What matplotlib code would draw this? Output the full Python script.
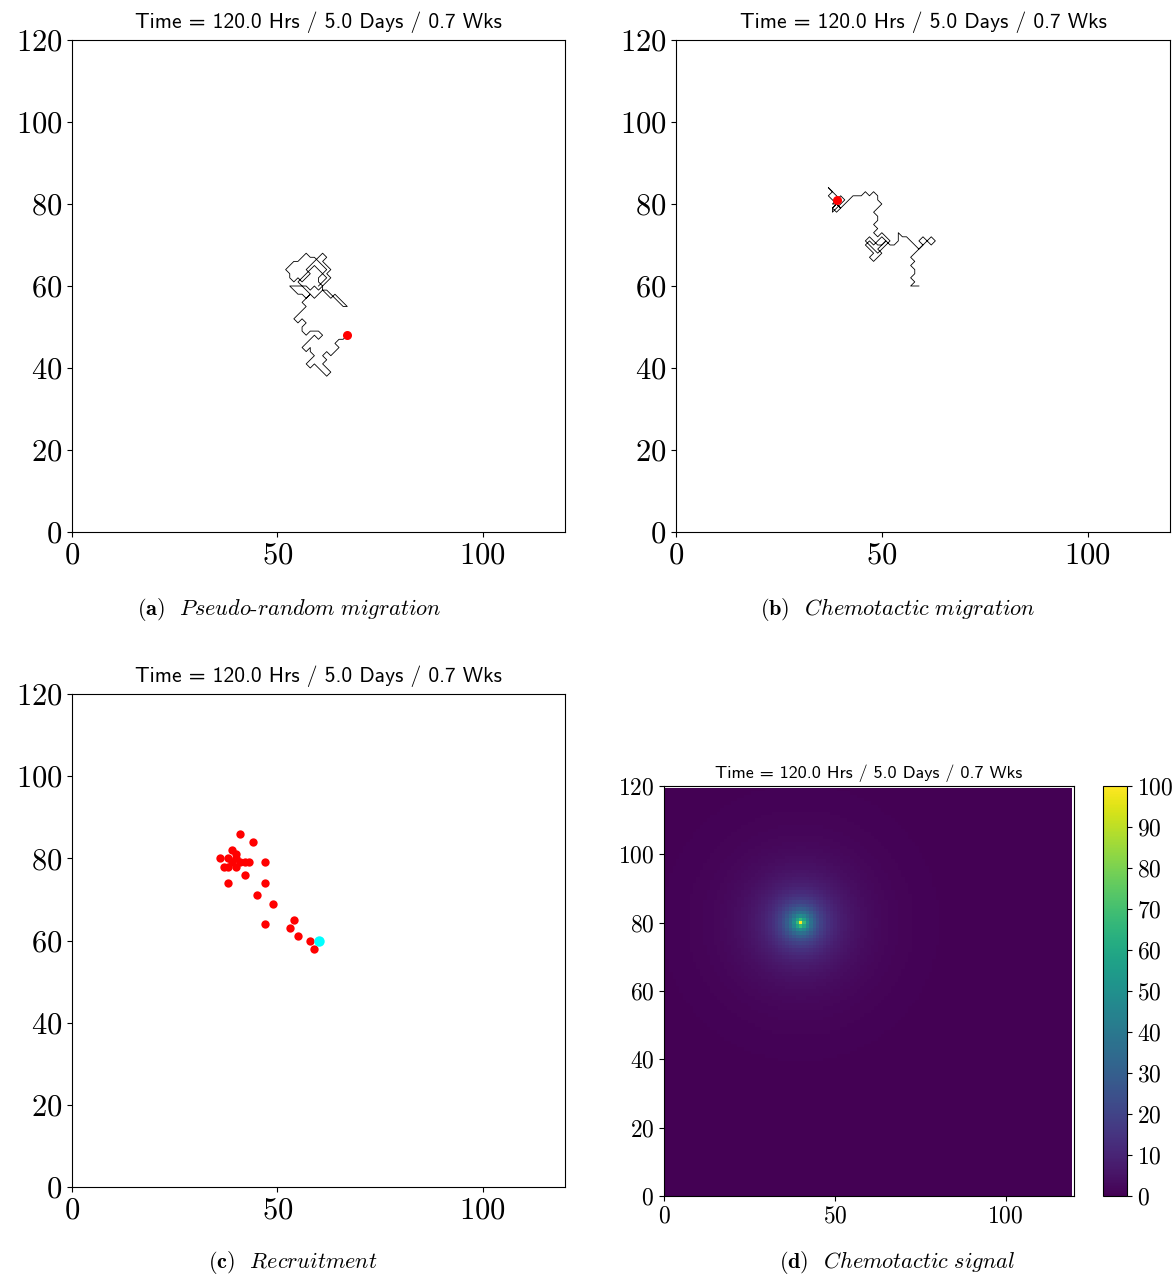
import numpy as np
import matplotlib
matplotlib.use("Agg")
import matplotlib.pyplot as plt

plt.rcParams['font.family'] = ['cmr10', 'DejaVu Serif']
plt.rcParams['mathtext.fontset'] = 'cm'
plt.rcParams['axes.formatter.use_mathtext'] = True

TITLE = "Time = 120.0 Hrs / 5.0 Days / 0.7 Wks"

# pseudo-random walk of one cell on the lattice (start -> current position)
rand_path = [
    (60, 60), (61, 61), (62, 62), (61, 63), (62, 64), (61, 65), (60, 66), (59, 67), (58, 67), (57, 68),
    (56, 67), (55, 66), (54, 66), (53, 65), (52, 64), (53, 63), (53, 62), (54, 61), (55, 62), (56, 61),
    (57, 62), (58, 63), (57, 64), (58, 65), (59, 66), (60, 67), (61, 68), (62, 67), (61, 66), (62, 65),
    (63, 64), (62, 63), (63, 62), (62, 61), (61, 60), (60, 59), (59, 60), (58, 59), (57, 60), (56, 60),
    (55, 60), (54, 60), (53, 60), (54, 59), (55, 58), (56, 58), (57, 57), (58, 58), (59, 57), (60, 58),
    (61, 59), (62, 58), (63, 57), (64, 58), (65, 57), (66, 56), (67, 55), (66, 55), (65, 56), (64, 57),
    (63, 58), (62, 59), (61, 59), (61, 60), (60, 61), (60, 62), (61, 63), (60, 64), (59, 65), (58, 64),
    (57, 63), (56, 62), (55, 61), (56, 60), (57, 59), (58, 58), (57, 57), (56, 56), (57, 55), (56, 54),
    (55, 53), (54, 52), (55, 51), (56, 52), (57, 51), (56, 50), (56, 49), (57, 48), (58, 49), (59, 49),
    (60, 49), (61, 48), (60, 47), (59, 48), (58, 47), (57, 46), (56, 45), (57, 44), (58, 45), (58, 44),
    (59, 43), (58, 42), (57, 41), (58, 40), (59, 41), (60, 40), (61, 39), (62, 38), (63, 39), (62, 40),
    (61, 41), (62, 42), (61, 43), (62, 44), (63, 43), (64, 44), (65, 45), (64, 46), (65, 47), (66, 47),
    (67, 48)]

# chemotactic walk towards the signal source
chem_path = [
    (59, 60), (58, 60), (57, 60), (58, 61), (57, 62), (58, 63), (58, 64), (57, 65), (58, 66), (57, 67),
    (58, 68), (59, 69), (60, 70), (61, 71), (62, 70), (63, 71), (62, 72), (61, 71), (60, 72), (59, 71),
    (60, 70), (59, 69), (58, 70), (57, 71), (56, 72), (55, 72), (54, 73), (54, 72), (54, 71), (53, 70),
    (52, 70), (51, 71), (50, 70), (49, 69), (50, 68), (49, 67), (48, 66), (47, 67), (48, 68), (47, 69),
    (46, 70), (47, 71), (48, 70), (49, 71), (50, 72), (51, 71), (50, 70), (49, 70), (48, 71), (47, 72),
    (46, 71), (47, 70), (48, 69), (49, 68), (50, 69), (51, 70), (52, 71), (51, 72), (50, 73), (49, 72),
    (48, 73), (49, 74), (48, 75), (49, 76), (49, 77), (48, 78), (49, 79), (50, 80), (49, 81), (49, 82),
    (48, 83), (47, 82), (46, 83), (45, 82), (44, 82), (43, 82), (42, 81), (41, 80), (40, 79), (39, 80),
    (38, 81), (37, 82), (38, 83), (37, 84), (38, 83), (39, 82), (40, 81), (39, 80), (38, 79), (38, 78),
    (39, 79), (40, 80), (41, 81), (40, 82), (39, 81), (38, 80), (39, 80), (40, 79), (39, 78), (38, 79),
    (39, 80), (40, 81), (39, 81)]

# recruited cells and the recruitment site
rec_x = [41, 44, 36, 39, 40, 38, 37, 38, 40, 41, 42, 43, 39, 40, 47, 42, 38, 47, 45, 49,
         47, 54, 53, 55, 58, 59]
rec_y = [86, 84, 80, 82, 81, 80, 78, 78, 78, 79, 79, 79, 79, 80, 79, 76, 74, 74, 71, 69,
         64, 65, 63, 61, 60, 58]
site_x, site_y = 60, 60

# chemotactic signal: point source with screened decay
src_x, src_y = 40, 80
peak = 100.0
decay_len = 15.0
core_len = 2.5

W, H = 1174, 1274
fig = plt.figure(figsize=(W / 100, H / 100), dpi=100)


def box(l, t, r, b):
    return [l / W, 1 - b / H, (r - l) / W, (b - t) / H]


ax_a = fig.add_axes(box(72, 40, 565, 532))
ax_b = fig.add_axes(box(676, 40, 1170, 532))
ax_c = fig.add_axes(box(72, 694, 565, 1187))
ax_d = fig.add_axes(box(664, 786, 1074, 1196))
ax_cb = fig.add_axes(box(1103, 786, 1127, 1196))

for ax in (ax_a, ax_b, ax_c):
    ax.set_xlim(0, 120)
    ax.set_ylim(0, 120)
    ax.set_xticks([0, 50, 100])
    ax.set_yticks(range(0, 121, 20))
    ax.tick_params(labelsize=22)
    ax.set_title(TITLE, family=['cmss10', 'DejaVu Sans'], fontsize=15.5, pad=9)

rp = np.array(rand_path)
ax_a.plot(rp[:, 0], rp[:, 1], color='black', lw=0.6)
ax_a.plot(rp[-1, 0], rp[-1, 1], 'o', color='red', ms=6.5, mec='none')

cp = np.array(chem_path)
ax_b.plot(cp[:, 0], cp[:, 1], color='black', lw=0.6)
ax_b.plot(cp[-1, 0], cp[-1, 1], 'o', color='red', ms=6.5, mec='none')

ax_c.plot(rec_x, rec_y, 'o', color='red', ms=6, mec='none', ls='none')
ax_c.plot(site_x, site_y, 'o', color='cyan', ms=7.5, mec='none')

# signal field on the lattice
gx = np.arange(0, 120)
gy = np.arange(0, 120)
X, Y = np.meshgrid(gx, gy)
r = np.hypot(X - src_x, Y - src_y)
conc = peak / (1 + r / core_len) * np.exp(-r / decay_len)
mesh = ax_d.pcolormesh(gx, gy, conc, cmap='viridis', vmin=0, vmax=100, shading='nearest')
ax_d.set_xlim(0, 120)
ax_d.set_ylim(0, 120)
ax_d.set_xticks([0, 50, 100])
ax_d.set_yticks(range(0, 121, 20))
ax_d.tick_params(labelsize=17)
ax_d.set_title(TITLE, family=['cmss10', 'DejaVu Sans'], fontsize=13, pad=6)
cb = fig.colorbar(mesh, cax=ax_cb, ticks=range(0, 101, 10))
cb.ax.tick_params(labelsize=17)

captions = [(137, 609, '(a)', 'Pseudo', 'random migration'),
            (760, 609, '(b)', 'Chemotactic migration', None),
            (208, 1263, '(c)', 'Recruitment', None),
            (779, 1263, '(d)', 'Chemotactic signal', None)]
for px, py, tag, first, rest in captions:
    txt = r'$\mathbf{' + tag + r'}$  $\mathit{' + first.replace(' ', r'\ ') + '}$'
    if rest:
        txt += '-$\\mathit{' + rest.replace(' ', r'\ ') + '}$'
    fig.text(px / W, 1 - py / H, txt, fontsize=16, ha='left', va='center')

fig.savefig('out.png', dpi=100)
